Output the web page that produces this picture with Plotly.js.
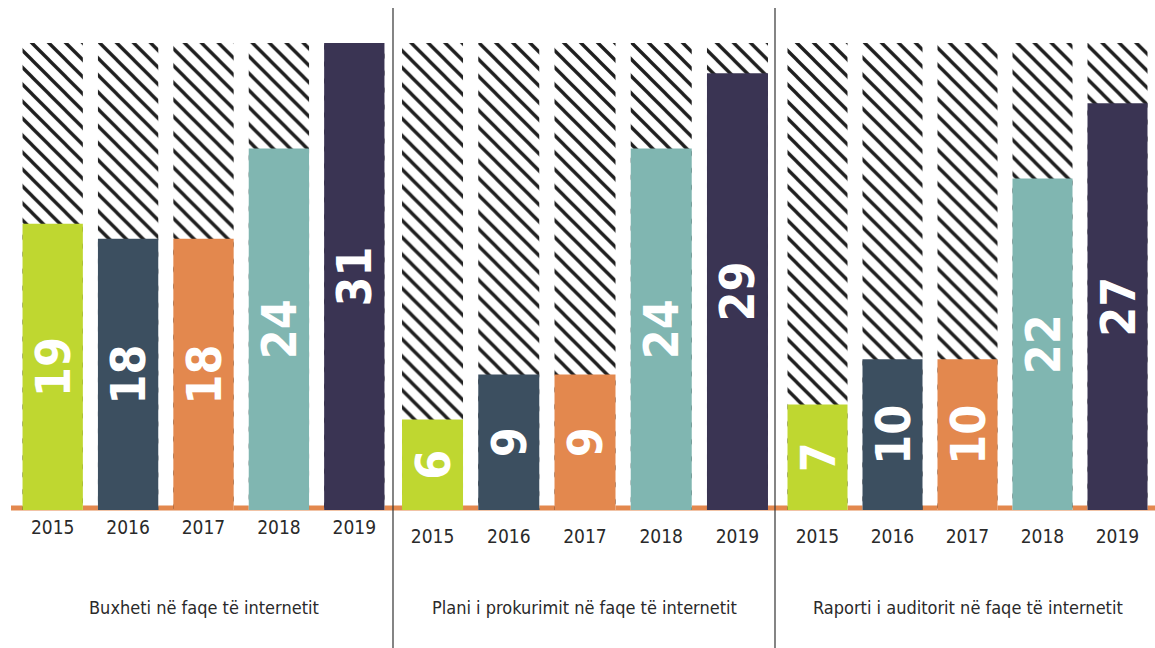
<!DOCTYPE html>
<html>
<head>
<meta charset="utf-8">
<script src="https://cdn.plot.ly/plotly-3.0.1.min.js"></script>
<style>html,body{margin:0;padding:0;background:#fff;}#chart{width:1155px;height:648px;}</style>
</head>
<body>
<div id="chart"></div>
<script>
// ---- data ----
const years = ["2015", "2016", "2017", "2018", "2019"];
const panelTitles = [
  "Buxheti në faqe të internetit",
  "Plani i prokurimit në faqe të internetit",
  "Raporti i auditorit në faqe të internetit"
];
const budgetOnline = [19, 18, 18, 24, 31];
const procurementOnline = [6, 9, 9, 24, 29];
const auditOnline = [7, 10, 10, 22, 27];
const totalMunicipalities = [31, 31, 31, 31, 31];
const yearColors = ["#BFD730", "#3C4F60", "#E3884E", "#80B6B1", "#3A3453"];

// ---- layout ----
const W = 1155, H = 648;
const plotTop = 43, plotBottom = 510;
const plotH = plotBottom - plotTop;
const domains = [[15 / W, 392 / W], [394.4 / W, 775.6 / W], [780 / W, 1]];
const series = [budgetOnline, procurementOnline, auditOnline];
const FONT = '"DejaVu Sans Condensed", "Liberation Sans Narrow", "Roboto", sans-serif';

const traces = [];
series.forEach((vals, i) => {
  const xa = i === 0 ? 'x' : 'x' + (i + 1);
  traces.push({
    type: 'bar', x: years, y: totalMunicipalities, xaxis: xa, yaxis: 'y',
    marker: {
      color: '#ffffff',
      line: {width: 0},
      pattern: {shape: '\\', size: 12, solidity: 0.28, fgcolor: '#1e1e1e', bgcolor: '#ffffff', fillmode: 'replace'}
    },
    hoverinfo: 'skip', showlegend: false
  });
  traces.push({
    type: 'bar', x: years, y: vals, xaxis: xa, yaxis: 'y',
    marker: {color: yearColors, line: {width: 0}},
    text: vals.map(String),
    textposition: 'inside', insidetextanchor: 'middle', textangle: -90,
    constraintext: 'none', cliponaxis: false,
    textfont: {family: FONT, size: 48, color: '#ffffff', weight: 'bold'},
    showlegend: false
  });
});

const toPaperY = py => (plotBottom - py) / plotH;
const layout = {
  width: W, height: H,
  margin: {l: 0, r: 0, t: plotTop, b: H - plotBottom, pad: 0},
  paper_bgcolor: '#ffffff', plot_bgcolor: 'rgba(0,0,0,0)',
  barmode: 'overlay', bargap: 0.2,
  showlegend: false,
  yaxis: {range: [0, 31], visible: false, fixedrange: true},
  shapes: [
    {type: 'line', xref: 'paper', yref: 'paper', x0: 11 / W, x1: 1, y0: toPaperY(508), y1: toPaperY(508),
      line: {color: '#E3884E', width: 5}, layer: 'below'},
    {type: 'line', xref: 'paper', yref: 'paper', x0: 393 / W, x1: 393 / W, y0: toPaperY(648), y1: toPaperY(8),
      line: {color: '#333333', width: 1.2}, layer: 'above'},
    {type: 'line', xref: 'paper', yref: 'paper', x0: 775 / W, x1: 775 / W, y0: toPaperY(648), y1: toPaperY(8),
      line: {color: '#333333', width: 1.2}, layer: 'above'}
  ],
  annotations: panelTitles.map((t, i) => ({
    text: t, xref: 'paper', yref: 'paper',
    x: (domains[i][0] + domains[i][1]) / 2, y: toPaperY(607),
    xanchor: 'center', yanchor: 'middle', showarrow: false,
    font: {family: FONT, size: 18, color: '#2a2a2a'}
  }))
};
domains.forEach((d, i) => {
  const key = i === 0 ? 'xaxis' : 'xaxis' + (i + 1);
  layout[key] = {
    domain: d, anchor: 'y', type: 'category',
    showgrid: false, zeroline: false, showline: false, ticks: '',
    ticklabelstandoff: i === 0 ? 4 : 13,
    tickfont: {family: FONT, size: 19, color: '#2a2a2a'},
    fixedrange: true
  };
});

Plotly.newPlot('chart', traces, layout, {displayModeBar: false, staticPlot: true});
</script>
</body>
</html>
